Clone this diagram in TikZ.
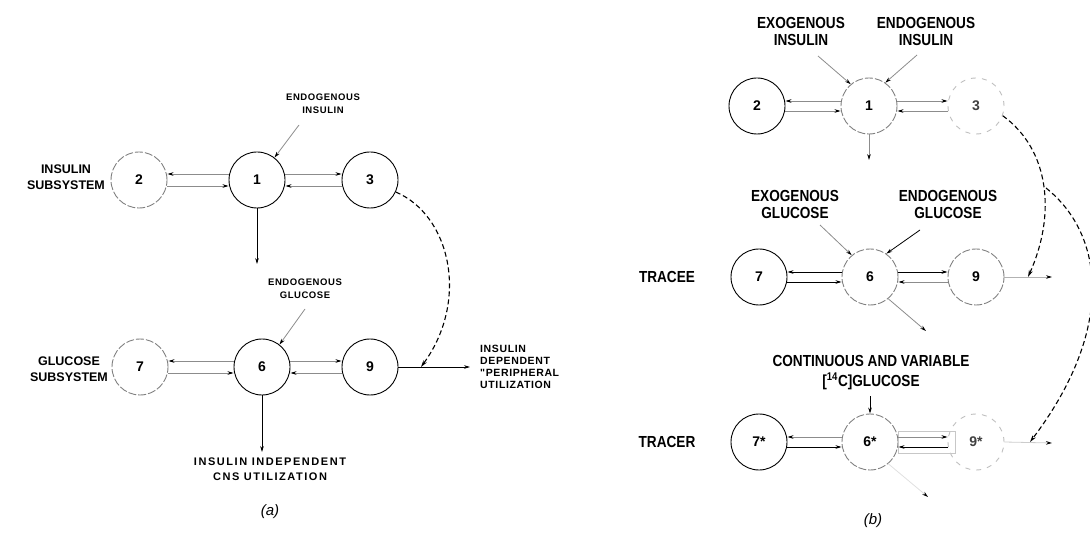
\documentclass[tikz,border=0pt]{standalone}
\usepackage{fontspec}
\setmainfont{Liberation Sans}
\newfontfamily\narrowf{Liberation Sans}[FakeStretch=0.85]
\newfontfamily\widef{Liberation Sans}[LetterSpace=6]
\newfontfamily\widerf{Liberation Sans}[LetterSpace=14]
\usetikzlibrary{arrows.meta,calc}

\begin{document}
\begin{tikzpicture}[x=1pt,y=-1pt,
  comp/.style={circle,minimum size=56pt,inner sep=0pt,line width=0.9pt,draw=black,
    font=\bfseries\fontsize{14}{14}\selectfont},
  compfade/.style={comp,draw=black!50,dash pattern=on 8pt off 2pt},
  compghost/.style={comp,draw=black!25,dash pattern=on 5pt off 6pt,text=black!75},
  flow/.style={draw=black!45,line width=0.8pt,-{Stealth[length=6pt,width=3.6pt,black]}},
  flowdark/.style={flow,draw=black},
  ctrl/.style={draw=black,line width=1.1pt,dash pattern=on 5pt off 3pt,
    -{Stealth[length=7pt,width=4pt]}},
  smalllbl/.style={font=\widef\bfseries\fontsize{9.5}{13}\selectfont,align=center,inner sep=0pt},
  outlbl/.style={font=\widef\bfseries\fontsize{10.5}{12}\selectfont,align=left,inner sep=0pt},
  cnslbl/.style={font=\widerf\bfseries\fontsize{11}{15}\selectfont,align=center,inner sep=0pt},
  sidelbl/.style={font=\bfseries\fontsize{12.5}{16}\selectfont,align=center,inner sep=0pt},
  biglbl/.style={font=\narrowf\bfseries\fontsize{16}{17}\selectfont,align=center,inner sep=0pt},
  caption/.style={font=\itshape\fontsize{15}{15}\selectfont,inner sep=0pt}
]
\useasboundingbox (0,0) rectangle (1090,537);
\clip (0,0) rectangle (1090,537);

% ---------------- (a) two-subsystem model ----------------
\node[compfade] (a2) at (139,180) {2};
\node[comp]     (a1) at (257,180) {1};
\node[comp]     (a3) at (370,180) {3};
\node[compfade] (a7) at (140,367) {7};
\node[comp]     (a6) at (262,367) {6};
\node[comp]     (a9) at (370,367) {9};

\node[sidelbl] (insub) at (66,177) {INSULIN\\SUBSYSTEM};
\node[sidelbl] (glsub) at (69,369) {GLUCOSE\\SUBSYSTEM};

% insulin exchanges
\draw[flow] ([yshift=6pt]a1.west) -- ([yshift=6pt]a2.east);
\draw[flow] ([yshift=-6pt]a2.east) -- ([yshift=-6pt]a1.west);
\draw[flow] ([yshift=6pt]a1.east) -- ([yshift=6pt]a3.west);
\draw[flow] ([yshift=-6pt]a3.west) -- ([yshift=-6pt]a1.east);
% glucose exchanges
\draw[flow] ([yshift=6pt]a6.west) -- ([yshift=6pt]a7.east);
\draw[flow] ([yshift=-6pt]a7.east) -- ([yshift=-6pt]a6.west);
\draw[flow] ([yshift=6pt]a6.east) -- ([yshift=6pt]a9.west);
\draw[flow] ([yshift=-6pt]a9.west) -- ([yshift=-6pt]a6.east);

% insulin input and loss
\node[smalllbl] (eia) at (323,104) {ENDOGENOUS\\INSULIN};
\coordinate (eiat) at (299,125);
\draw[flow] (eiat) -- (a1.52);
\coordinate (a1out) at (257,264);
\draw[flowdark] (a1.south) -- (a1out);

% glucose input and losses
\node[smalllbl] (ega) at (305,289) {ENDOGENOUS\\GLUCOSE};
\coordinate (egat) at (305,309);
\draw[flow] (egat) -- (a6.52);
\coordinate (a6out) at (262,452);
\draw[flowdark] (a6.south) -- (a6out);
\node[cnslbl] (cns) at (270,469) {INSULIN INDEPENDENT\\CNS UTILIZATION};

\coordinate (a9out) at (470,367);
\draw[flowdark] (a9.east) -- (a9out);
\node[outlbl,anchor=west] (per) at (480,367)
  {INSULIN\\DEPENDENT\\"PERIPHERAL\\UTILIZATION};

% insulin action on peripheral utilization
\coordinate (a9j) at (421,367);
\draw[ctrl] (a3.-25) .. controls (450,215) and (470,300) .. (a9j);

\node[caption] (capa) at (270,512) {(a)};

% ---------------- (b) tracer/tracee model ----------------
\node[comp]       (b2) at (757,106) {2};
\node[compfade]   (b1) at (869,106) {1};
\node[compghost]  (b3) at (976,106) {3};
\node[comp]       (b7) at (759,277) {7};
\node[compfade]   (b6) at (870,277) {6};
\node[compfade]   (b9) at (976,277) {9};
\node[comp]       (b7s) at (759,442) {7*};
\node[compfade]   (b6s) at (870,442) {6*};
\node[compghost]  (b9s) at (976,442) {9*};

\node[biglbl] (exi) at (801,31) {EXOGENOUS\\INSULIN};
\node[biglbl] (eni) at (926,31) {ENDOGENOUS\\INSULIN};
\node[biglbl] (exg) at (795,204) {EXOGENOUS\\GLUCOSE};
\node[biglbl] (eng) at (948,204) {ENDOGENOUS\\GLUCOSE};
\node[biglbl,font=\narrowf\bfseries\fontsize{16}{20}\selectfont] (civ) at (871,373)
  {CONTINUOUS AND VARIABLE\\{[}\textsuperscript{14}C{]}GLUCOSE};
\node[biglbl] (tce) at (667,277) {TRACEE};
\node[biglbl] (tcr) at (667,442) {TRACER};

% insulin
\coordinate (exit) at (818,56);
\coordinate (enit) at (917,55);
\draw[flow] (exit) -- (b1.130);
\draw[flow] (enit) -- (b1.55);
\draw[flow] ([yshift=5pt]b1.west) -- ([yshift=5pt]b2.east);
\draw[flow] ([yshift=-5pt]b2.east) -- ([yshift=-5pt]b1.west);
\draw[flow] ([yshift=5pt]b1.east) -- ([yshift=5pt]b3.west);
\draw[flow] ([yshift=-5pt]b3.west) -- ([yshift=-5pt]b1.east);
\coordinate (b1out) at (869,160);
\draw[flow] (b1.south) -- (b1out);

% tracee glucose
\coordinate (exgt) at (820,225);
\coordinate (engt) at (920,230);
\draw[flow] (exgt) -- (b6.130);
\draw[flowdark] (engt) -- (b6.55);
\draw[flowdark] ([yshift=5pt]b6.west) -- ([yshift=5pt]b7.east);
\draw[flowdark] ([yshift=-5pt]b7.east) -- ([yshift=-5pt]b6.west);
\draw[flowdark] ([yshift=5pt]b6.east) -- ([yshift=5pt]b9.west);
\draw[flow] ([yshift=-5pt]b9.west) -- ([yshift=-5pt]b6.east);
\coordinate (b6out) at (926,331);
\draw[flow] (b6.-50) -- (b6out);
\coordinate (b9out) at (1052,277);
\draw[flow,draw=black!30] (b9.east) -- (b9out);

% tracer glucose
\coordinate (trin) at (870,396);
\draw[flowdark] (trin) -- (b6s.north);
\draw[flow] ([yshift=5pt]b6s.west) -- ([yshift=5pt]b7s.east);
\draw[flowdark] ([yshift=-5pt]b7s.east) -- ([yshift=-5pt]b6s.west);
\draw[black!22,line width=0.8pt] ([yshift=11pt]b6s.east) rectangle ([yshift=-11pt,xshift=8pt]b9s.west);
\draw[flow] ([yshift=5pt]b6s.east) -- ([yshift=5pt]b9s.west);
\draw[flowdark] ([yshift=-5pt]b9s.west) -- ([yshift=-5pt]b6s.east);
\coordinate (b6sout) at (928,497);
\draw[flow,draw=black!12] (b6s.-50) -- (b6sout);
\coordinate (b9sout) at (1052,443);
\draw[flow,draw=black!20] (b9s.east) -- (b9sout);

% insulin action on tracee and tracer peripheral utilization
\coordinate (b9j) at (1028,277);
\coordinate (bbr) at (1046,188);
\coordinate (b9sj) at (1030,442);
\draw[ctrl] (b3.-20) .. controls (1050,150) and (1056,215) .. (b9j);
\draw[ctrl] (bbr) .. controls (1105,235) and (1115,330) .. (b9sj);

\node[caption] (capb) at (873,521) {(b)};
\end{tikzpicture}
\end{document}
